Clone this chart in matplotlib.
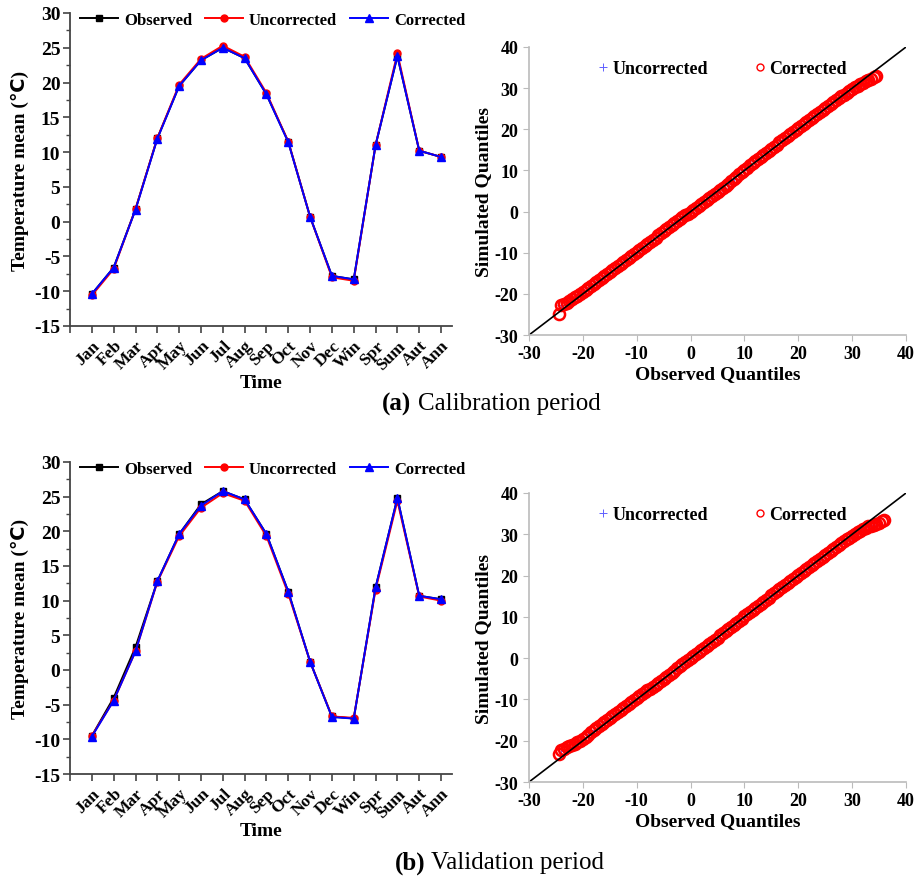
import matplotlib
matplotlib.use("Agg")
import matplotlib.pyplot as plt
from matplotlib.ticker import MultipleLocator
from matplotlib.lines import Line2D

plt.rcParams["font.family"] = ["Liberation Serif", "DejaVu Sans"]
plt.rcParams["axes.unicode_minus"] = False

# --- monthly / seasonal means ---
months = ["Jan", "Feb", "Mar", "Apr", "May", "Jun", "Jul", "Aug", "Sep", "Oct",
          "Nov", "Dec", "Win", "Spr", "Sum", "Aut", "Ann"]

cal_obs = [-10.4, -6.6, 1.8, 12.0, 19.5, 23.2, 25.0, 23.5, 18.3, 11.5,
           0.7, -7.8, -8.3, 11.0, 23.8, 10.2, 9.3]
cal_unc = [-10.6, -6.8, 1.8, 12.0, 19.7, 23.4, 25.3, 23.7, 18.5, 11.5,
           0.7, -8.0, -8.5, 11.0, 24.2, 10.2, 9.3]
cal_cor = [-10.4, -6.6, 1.7, 11.9, 19.5, 23.2, 25.0, 23.5, 18.3, 11.4,
           0.7, -7.8, -8.3, 11.0, 23.8, 10.2, 9.3]

val_obs = [-9.5, -4.0, 3.3, 12.8, 19.6, 23.9, 25.8, 24.6, 19.6, 11.3,
           1.2, -6.7, -7.0, 11.9, 24.8, 10.7, 10.2]
val_unc = [-9.5, -4.4, 2.7, 12.7, 19.3, 23.4, 25.5, 24.4, 19.3, 11.0,
           1.2, -6.7, -6.9, 11.6, 24.4, 10.6, 10.0]
val_cor = [-9.6, -4.4, 2.7, 12.8, 19.6, 23.7, 25.8, 24.6, 19.6, 11.3,
           1.2, -6.8, -7.0, 11.9, 24.8, 10.7, 10.2]

# --- QQ data, calibration ---
qa_obs = [-24.5, -24.0, -23.5, -23.0, -22.5, -22.0, -21.5, -21.0, -20.5, -20.0,
          -19.5, -19.0, -18.5, -18.0, -17.5, -17.0, -16.5, -16.0, -15.5, -15.0,
          -14.5, -14.0, -13.5, -13.0, -12.5, -12.0, -11.5, -11.0, -10.5, -10.0,
          -9.5, -9.0, -8.5, -8.0, -7.5, -7.0, -6.5, -6.0, -5.5, -5.0,
          -4.5, -4.0, -3.5, -3.0, -2.5, -2.0, -1.5, -1.0, -0.5, 0.0,
          0.5, 1.0, 1.5, 2.0, 2.5, 3.0, 3.5, 4.0, 4.5, 5.0,
          5.5, 6.0, 6.5, 7.0, 7.5, 8.0, 8.5, 9.0, 9.5, 10.0,
          10.5, 11.0, 11.5, 12.0, 12.5, 13.0, 13.5, 14.0, 14.5, 15.0,
          15.5, 16.0, 16.5, 17.0, 17.5, 18.0, 18.5, 19.0, 19.5, 20.0,
          20.5, 21.0, 21.5, 22.0, 22.5, 23.0, 23.5, 24.0, 24.5, 25.0,
          25.5, 26.0, 26.5, 27.0, 27.5, 28.0, 28.5, 29.0, 29.5, 30.0,
          30.5, 31.0, 31.5, 32.0, 32.5, 33.0, 33.5, 34.0, 34.5]
qa_cor = [-25.0, -22.8, -22.4, -22.1, -21.7, -21.2, -20.8, -20.4, -20.0, -19.6,
          -19.1, -18.6, -18.1, -17.6, -17.1, -16.7, -16.2, -15.7, -15.2, -14.7,
          -14.2, -13.7, -13.2, -12.7, -12.2, -11.7, -11.2, -10.8, -10.3, -9.8,
          -9.3, -8.8, -8.3, -7.8, -7.3, -6.8, -6.3, -5.8, -5.3, -4.8,
          -4.3, -3.8, -3.3, -2.8, -2.4, -1.9, -1.4, -0.9, -0.5, 0.0,
          0.4, 0.9, 1.3, 1.8, 2.3, 2.8, 3.3, 3.8, 4.3, 4.8,
          5.3, 5.8, 6.3, 6.8, 7.4, 7.9, 8.5, 9.1, 9.6, 10.2,
          10.7, 11.3, 11.8, 12.3, 12.8, 13.3, 13.8, 14.3, 14.8, 15.3,
          15.8, 16.3, 16.8, 17.3, 17.8, 18.3, 18.8, 19.3, 19.8, 20.3,
          20.8, 21.3, 21.8, 22.3, 22.8, 23.3, 23.7, 24.2, 24.7, 25.2,
          25.6, 26.1, 26.6, 27.0, 27.5, 28.0, 28.4, 28.9, 29.3, 29.8,
          30.2, 30.6, 31.0, 31.3, 31.7, 32.0, 32.3, 32.6, 32.9]
qa_obs_u = [-24, -23, -22, -21, -20, -19, -18, -17, -16, -15, -14, -13, -12, -11, -10,
            -9, -8, -7, -6, -5, -4, -3, -2, -1, 0, 1, 2, 3, 4, 5, 6, 7, 8, 9, 10,
            11, 12, 13, 14, 15, 16, 17, 18, 19, 20, 21, 22, 23, 24, 25, 26, 27, 28,
            29, 30, 31, 32, 33]
qa_unc = [-22.6, -21.8, -20.9, -20.1, -19.4, -18.5, -17.5, -16.6, -15.6, -14.7,
          -13.7, -12.7, -11.7, -10.8, -9.8, -8.8, -7.8, -6.8, -5.9, -4.9,
          -3.9, -2.9, -1.9, -1.0, 0.0, 0.9, 1.8, 2.8, 3.8, 4.8,
          5.8, 6.8, 7.9, 9.0, 10.1, 11.2, 12.2, 13.2, 14.2, 15.2,
          16.2, 17.2, 18.2, 19.2, 20.2, 21.1, 22.1, 23.0, 24.0, 24.9,
          25.8, 26.7, 27.5, 28.4, 29.3, 30.2, 31.1, 32.2]

# --- QQ data, validation ---
qb_obs = [-24.5, -24.0, -23.5, -23.0, -22.5, -22.0, -21.5, -21.0, -20.5, -20.0,
          -19.5, -19.0, -18.5, -18.0, -17.5, -17.0, -16.5, -16.0, -15.5, -15.0,
          -14.5, -14.0, -13.5, -13.0, -12.5, -12.0, -11.5, -11.0, -10.5, -10.0,
          -9.5, -9.0, -8.5, -8.0, -7.5, -7.0, -6.5, -6.0, -5.5, -5.0,
          -4.5, -4.0, -3.5, -3.0, -2.5, -2.0, -1.5, -1.0, -0.5, 0.0,
          0.5, 1.0, 1.5, 2.0, 2.5, 3.0, 3.5, 4.0, 4.5, 5.0,
          5.5, 6.0, 6.5, 7.0, 7.5, 8.0, 8.5, 9.0, 9.5, 10.0,
          10.5, 11.0, 11.5, 12.0, 12.5, 13.0, 13.5, 14.0, 14.5, 15.0,
          15.5, 16.0, 16.5, 17.0, 17.5, 18.0, 18.5, 19.0, 19.5, 20.0,
          20.5, 21.0, 21.5, 22.0, 22.5, 23.0, 23.5, 24.0, 24.5, 25.0,
          25.5, 26.0, 26.5, 27.0, 27.5, 28.0, 28.5, 29.0, 29.5, 30.0,
          30.5, 31.0, 31.5, 32.0, 32.5, 33.0, 33.5, 34.0, 34.5, 35.0,
          35.5, 36.0]
qb_cor = [-23.3, -22.2, -22.0, -21.6, -21.3, -21.0, -20.7, -20.3, -20.0, -19.5,
          -19.0, -18.5, -18.0, -17.4, -16.9, -16.4, -15.9, -15.4, -14.9, -14.4,
          -13.9, -13.5, -13.0, -12.5, -12.0, -11.6, -11.1, -10.6, -10.2, -9.7,
          -9.2, -8.8, -8.3, -7.8, -7.4, -6.9, -6.4, -6.0, -5.5, -5.0,
          -4.5, -4.0, -3.5, -3.0, -2.5, -2.0, -1.5, -1.0, -0.5, 0.0,
          0.4, 0.9, 1.4, 1.9, 2.4, 2.9, 3.4, 3.9, 4.5, 5.0,
          5.5, 6.1, 6.6, 7.1, 7.6, 8.1, 8.6, 9.1, 9.6, 10.1,
          10.6, 11.1, 11.6, 12.1, 12.6, 13.1, 13.6, 14.1, 14.6, 15.2,
          15.7, 16.2, 16.7, 17.2, 17.6, 18.1, 18.6, 19.1, 19.6, 20.1,
          20.6, 21.1, 21.6, 22.1, 22.6, 23.1, 23.6, 24.0, 24.5, 25.0,
          25.5, 26.0, 26.5, 27.0, 27.4, 27.9, 28.3, 28.8, 29.2, 29.7,
          30.1, 30.5, 30.9, 31.2, 31.6, 31.9, 32.1, 32.3, 32.5, 32.8,
          33.1, 33.5]
qb_obs_u = [-24, -23, -22, -21, -20, -19, -18, -17, -16, -15, -14, -13, -12, -11, -10,
            -9, -8, -7, -6, -5, -4, -3, -2, -1, 0, 1, 2, 3, 4, 5, 6, 7, 8, 9, 10,
            11, 12, 13, 14, 15, 16, 17, 18, 19, 20, 21, 22, 23, 24, 25, 26, 27, 28,
            29, 30, 31, 32, 33, 34, 35]
qb_unc = [-22.0, -21.4, -20.7, -20.0, -19.2, -18.3, -17.3, -16.3, -15.4, -14.4,
          -13.5, -12.5, -11.6, -10.6, -9.7, -8.8, -7.8, -6.9, -5.9, -5.0,
          -4.0, -3.0, -2.0, -1.0, 0.0, 0.9, 1.9, 2.9, 3.9, 5.0,
          6.0, 7.0, 8.0, 9.0, 10.0, 11.0, 12.0, 13.0, 14.0, 15.1,
          16.1, 17.1, 18.0, 19.0, 20.0, 21.0, 22.0, 23.0, 23.9, 24.9,
          25.8, 26.7, 27.6, 28.5, 29.4, 30.2, 31.0, 31.8, 32.3, 32.6]

fig = plt.figure(figsize=(9.19, 8.79), dpi=100)


def line_panel(ax, obs, unc, cor):
    x = list(range(len(months)))
    ax.plot(x, obs, color="black", marker="s", ms=4.5, lw=1.4, label="Observed")
    ax.plot(x, unc, color="red", marker="o", ms=5, lw=1.4, label="Uncorrected")
    ax.plot(x, cor, color="blue", marker="^", ms=5.5, lw=1.4, label="Corrected")
    ax.set_xlim(-1, 16.5)
    ax.set_ylim(-15, 30)
    ax.set_xticks(x)
    ax.set_xticklabels(months, rotation=45, ha="right", rotation_mode="anchor",
                       fontsize=12.5, fontweight="bold")
    ax.set_xticks([-1], minor=True)
    ax.yaxis.set_major_locator(MultipleLocator(5))
    ax.yaxis.set_minor_locator(MultipleLocator(2.5))
    for lab in ax.get_yticklabels():
        lab.set_fontweight("bold")
        lab.set_fontsize(14)
    ax.tick_params(axis="both", which="both", direction="out", color="#444444")
    ax.tick_params(axis="both", which="major", length=5, width=1.2)
    ax.tick_params(axis="y", which="minor", length=3, width=1.0)
    ax.tick_params(axis="x", which="minor", length=5, width=1.2)
    ax.tick_params(axis="x", pad=3)
    ax.tick_params(axis="y", pad=2)
    for s in ["top", "right"]:
        ax.spines[s].set_visible(False)
    for s in ["left", "bottom"]:
        ax.spines[s].set_color("#444444")
        ax.spines[s].set_linewidth(1.3)
    ax.set_xlabel("Time", fontsize=14, fontweight="bold", labelpad=1)
    ax.set_ylabel("Temperature mean (\u2103)", fontsize=14, fontweight="bold",
                  labelpad=4)
    ax.legend(loc="upper left", bbox_to_anchor=(0.0, 1.035), ncol=3, frameon=False,
              prop={"weight": "bold", "size": 12}, handlelength=2.3,
              handletextpad=0.35, columnspacing=0.75, borderaxespad=0.2)


def qq_panel(ax, obs_u, unc, obs_c, cor):
    ax.plot(obs_u, unc, linestyle="none", marker="+", ms=6, mew=0.7,
            color="#6060ff", label="Uncorrected")
    ax.plot(obs_c, cor, linestyle="none", marker="o", ms=8, mew=1.8,
            mfc="none", mec="red", label="Corrected")
    ax.plot([-30, 40], [-30, 40], color="black", lw=1.2)
    ax.set_xlim(-30, 40)
    ax.set_ylim(-30, 40)
    ax.xaxis.set_major_locator(MultipleLocator(10))
    ax.yaxis.set_major_locator(MultipleLocator(10))
    for lab in ax.get_xticklabels() + ax.get_yticklabels():
        lab.set_fontweight("bold")
        lab.set_fontsize(13)
    ax.tick_params(axis="both", direction="out", length=4, width=0.8,
                   color="#bbbbbb")
    for s in ["top", "right"]:
        ax.spines[s].set_visible(False)
    for s in ["left", "bottom"]:
        ax.spines[s].set_color("#bbbbbb")
        ax.spines[s].set_linewidth(1.2)
    ax.set_xlabel("Observed Quantiles", fontsize=14, fontweight="bold", labelpad=2)
    ax.set_ylabel("Simulated Quantiles", fontsize=14, fontweight="bold", labelpad=2)
    handles = [Line2D([], [], linestyle="none", marker="+", ms=6, mew=0.7,
                      color="#6060ff"),
               Line2D([], [], linestyle="none", marker="o", ms=5, mew=1.0,
                      mfc="none", mec="red")]
    ax.legend(handles, ["Uncorrected", "Corrected"], loc="upper left",
              bbox_to_anchor=(0.14, 1.01), ncol=2, frameon=False,
              prop={"weight": "bold", "size": 13}, handlelength=0.6,
              handletextpad=0.2, columnspacing=2.6)


ax1 = fig.add_axes([0.0762, 0.628, 0.4156, 0.3561])
line_panel(ax1, cal_obs, cal_unc, cal_cor)
ax2 = fig.add_axes([0.5756, 0.6177, 0.4103, 0.3277])
qq_panel(ax2, qa_obs_u, qa_unc, qa_obs, qa_cor)

ax3 = fig.add_axes([0.0762, 0.1183, 0.4156, 0.355])
line_panel(ax3, val_obs, val_unc, val_cor)
ax4 = fig.add_axes([0.5756, 0.1092, 0.4103, 0.3288])
qq_panel(ax4, qb_obs_u, qb_unc, qb_obs, qb_cor)

fig.text(382 / 919, 1 - 404 / 879, "(a)", fontsize=18, fontweight="bold",
         ha="left", va="center")
fig.text(418 / 919, 1 - 404 / 879, "Calibration period", fontsize=18,
         ha="left", va="center")
fig.text(395 / 919, 1 - 863 / 879, "(b)", fontsize=18, fontweight="bold",
         ha="left", va="center")
fig.text(431 / 919, 1 - 863 / 879, "Validation period", fontsize=18,
         ha="left", va="center")

fig.savefig("out.png", dpi=100)
